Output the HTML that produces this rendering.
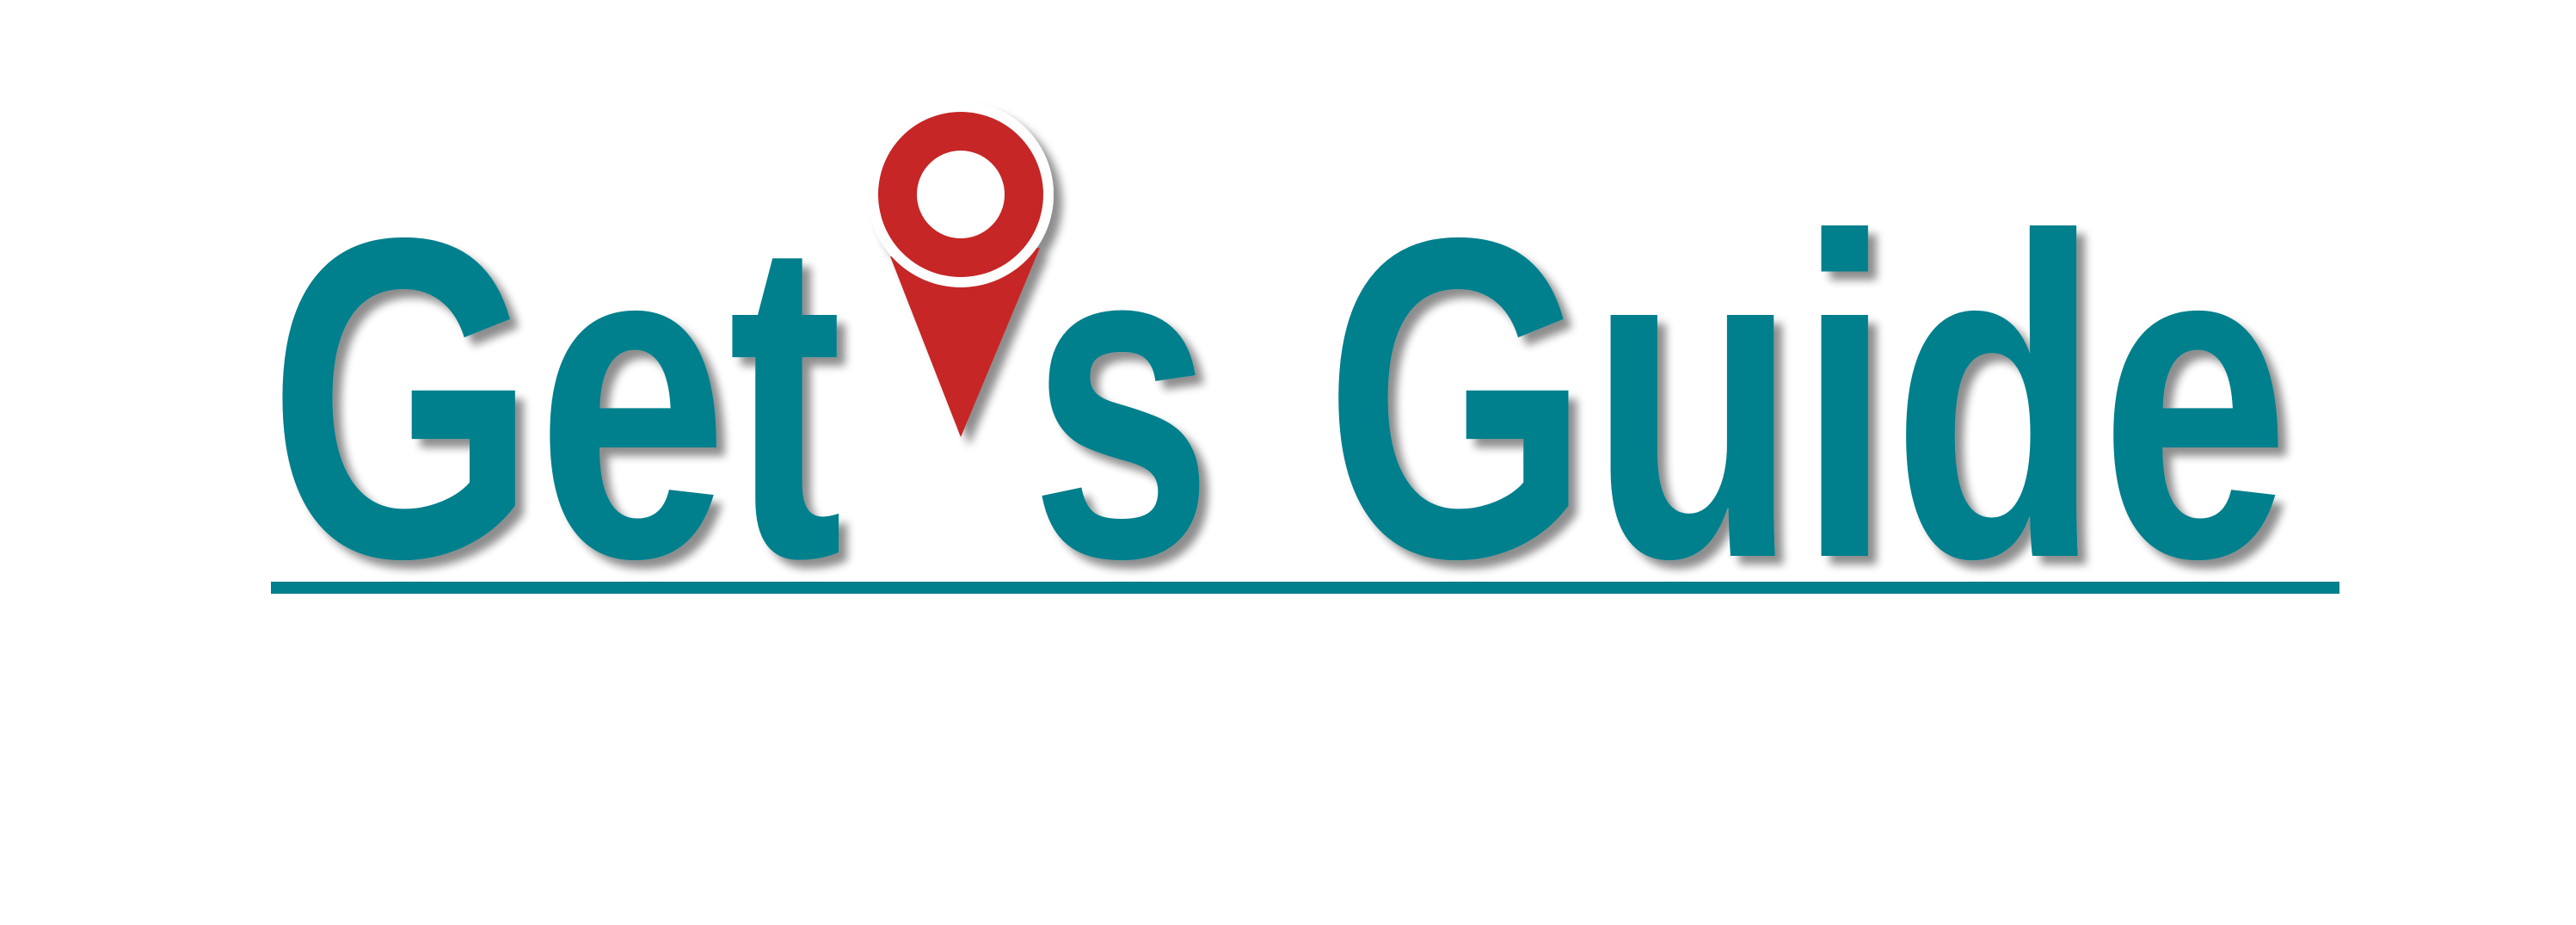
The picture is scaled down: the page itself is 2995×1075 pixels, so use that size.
<!DOCTYPE html>
<html>
<head>
<meta charset="utf-8">
<style>
  html, body { margin: 0; padding: 0; background: #ffffff; }
  body { width: 2995px; height: 1075px; overflow: hidden; }
  svg { display: block; }
</style>
</head>
<body>
<svg width="2995" height="1075" viewBox="0 0 2995 1075">
  <defs>
    <filter id="shadow" x="-10%" y="-10%" width="130%" height="130%">
      <feGaussianBlur in="SourceAlpha" stdDeviation="5"/>
      <feOffset dx="10" dy="10" result="b"/>
      <feComponentTransfer><feFuncA type="linear" slope="0.45"/></feComponentTransfer>
      <feMerge><feMergeNode/><feMergeNode in="SourceGraphic"/></feMerge>
    </filter>
  </defs>
  <rect width="2995" height="1075" fill="#ffffff"/>
  <g filter="url(#shadow)" fill="#007f8c" font-family="'Liberation Sans', Arial, sans-serif" font-weight="bold" font-size="530">
    <text x="312" y="646" textLength="668" lengthAdjust="spacingAndGlyphs">Get</text>
    <text x="1198" y="646" textLength="212" lengthAdjust="spacingAndGlyphs">s</text>
    <text x="1540" y="646" textLength="1122" lengthAdjust="spacingAndGlyphs">Guide</text>
  </g>
  <g filter="url(#shadow)">
    <polygon points="1035,298 1209,288 1117,508" fill="#c62828"/>
    <circle cx="1117" cy="226" r="108" fill="#ffffff"/>
    <circle cx="1117" cy="226" r="96" fill="#c62828"/>
    <circle cx="1117" cy="226" r="51" fill="#ffffff"/>
  </g>
  <rect x="315" y="676" width="2405" height="14" fill="#007f8c"/>
</svg>
</body>
</html>
